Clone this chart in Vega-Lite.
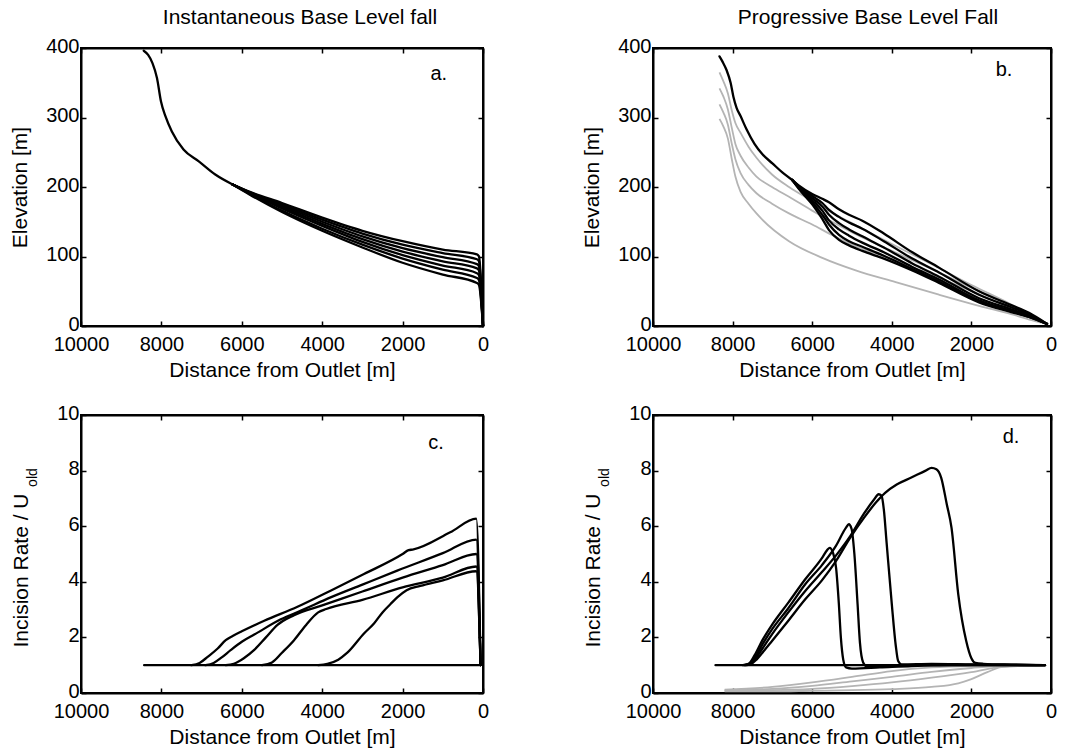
{
  "$schema": "https://vega.github.io/schema/vega-lite/v6.json",
  "background": "white",
  "padding": {"left": 8, "top": 6, "right": 5, "bottom": 2},
  "columns": 2,
  "bounds": "flush",
  "spacing": {"row": 89, "column": 170},
  "datasets": {
    "a": [
      {"s":"t","dist":8440,"val":396},{"s":"t","dist":8330,"val":390},{"s":"t","dist":8220,"val":378},{"s":"t","dist":8110,"val":357},{"s":"t","dist":8010,"val":323},{"s":"t","dist":7900,"val":302},{"s":"t","dist":7740,"val":280},{"s":"t","dist":7450,"val":254},{"s":"t","dist":7070,"val":237},{"s":"t","dist":6660,"val":218},{"s":"t","dist":6240,"val":204},
      {"s":"A1","dist":6240,"val":204},{"s":"A1","dist":5800,"val":193},{"s":"A1","dist":5000,"val":177},{"s":"A1","dist":4000,"val":156},{"s":"A1","dist":3000,"val":137},{"s":"A1","dist":2000,"val":122},{"s":"A1","dist":1000,"val":110},{"s":"A1","dist":150,"val":103},{"s":"A1","dist":100,"val":100},{"s":"A1","dist":0,"val":0},
      {"s":"A2","dist":6240,"val":204},{"s":"A2","dist":5800,"val":192.5},{"s":"A2","dist":5000,"val":175},{"s":"A2","dist":4000,"val":153},{"s":"A2","dist":3000,"val":133},{"s":"A2","dist":2000,"val":117},{"s":"A2","dist":1000,"val":105},{"s":"A2","dist":150,"val":96},{"s":"A2","dist":100,"val":93},{"s":"A2","dist":0,"val":0},
      {"s":"A3","dist":6240,"val":204},{"s":"A3","dist":5800,"val":192},{"s":"A3","dist":5000,"val":173},{"s":"A3","dist":4000,"val":150},{"s":"A3","dist":3000,"val":129},{"s":"A3","dist":2000,"val":112},{"s":"A3","dist":1000,"val":99},{"s":"A3","dist":150,"val":89},{"s":"A3","dist":100,"val":86},{"s":"A3","dist":0,"val":0},
      {"s":"A4","dist":6240,"val":204},{"s":"A4","dist":5800,"val":191.5},{"s":"A4","dist":5000,"val":171},{"s":"A4","dist":4000,"val":147},{"s":"A4","dist":3000,"val":125},{"s":"A4","dist":2000,"val":107},{"s":"A4","dist":1000,"val":93},{"s":"A4","dist":150,"val":83},{"s":"A4","dist":100,"val":80},{"s":"A4","dist":0,"val":0},
      {"s":"A5","dist":6240,"val":204},{"s":"A5","dist":5800,"val":191},{"s":"A5","dist":5000,"val":169},{"s":"A5","dist":4000,"val":144},{"s":"A5","dist":3000,"val":121},{"s":"A5","dist":2000,"val":102},{"s":"A5","dist":1000,"val":87},{"s":"A5","dist":150,"val":76},{"s":"A5","dist":100,"val":73},{"s":"A5","dist":0,"val":0},
      {"s":"A6","dist":6240,"val":204},{"s":"A6","dist":5800,"val":190},{"s":"A6","dist":5000,"val":166},{"s":"A6","dist":4000,"val":140},{"s":"A6","dist":3000,"val":117},{"s":"A6","dist":2000,"val":97},{"s":"A6","dist":1000,"val":81},{"s":"A6","dist":150,"val":69},{"s":"A6","dist":100,"val":66},{"s":"A6","dist":0,"val":0},
      {"s":"A7","dist":6240,"val":204},{"s":"A7","dist":5800,"val":189},{"s":"A7","dist":5000,"val":164},{"s":"A7","dist":4000,"val":137},{"s":"A7","dist":3000,"val":113},{"s":"A7","dist":2000,"val":91},{"s":"A7","dist":1000,"val":74},{"s":"A7","dist":150,"val":62},{"s":"A7","dist":100,"val":59},{"s":"A7","dist":0,"val":0}
    ],
    "bk": [
      {"s":"t","dist":8330,"val":388},{"s":"t","dist":8250,"val":380},{"s":"t","dist":8150,"val":368},{"s":"t","dist":8050,"val":350},{"s":"t","dist":7980,"val":330},{"s":"t","dist":7900,"val":314},{"s":"t","dist":7800,"val":302},{"s":"t","dist":7650,"val":283},{"s":"t","dist":7450,"val":262},{"s":"t","dist":7250,"val":247},{"s":"t","dist":7000,"val":234},{"s":"t","dist":6751,"val":221},{"s":"t","dist":6500,"val":210},
      {"s":"B1","dist":6500,"val":210},{"s":"B1","dist":6332,"val":202},{"s":"B1","dist":6000,"val":190},{"s":"B1","dist":5746,"val":183},{"s":"B1","dist":5578,"val":178},{"s":"B1","dist":5327,"val":168},{"s":"B1","dist":5075,"val":160},{"s":"B1","dist":4741,"val":151.5},{"s":"B1","dist":4200,"val":133},{"s":"B1","dist":3485,"val":106},{"s":"B1","dist":2814,"val":84},{"s":"B1","dist":1809,"val":50},{"s":"B1","dist":1000,"val":30},{"s":"B1","dist":553,"val":19},{"s":"B1","dist":100,"val":3},
      {"s":"B2","dist":6500,"val":210},{"s":"B2","dist":6332,"val":201},{"s":"B2","dist":6000,"val":187},{"s":"B2","dist":5746,"val":177},{"s":"B2","dist":5578,"val":167},{"s":"B2","dist":5327,"val":157},{"s":"B2","dist":5075,"val":149},{"s":"B2","dist":4741,"val":140},{"s":"B2","dist":4200,"val":122},{"s":"B2","dist":3485,"val":97},{"s":"B2","dist":2814,"val":77},{"s":"B2","dist":1809,"val":45},{"s":"B2","dist":1000,"val":27},{"s":"B2","dist":553,"val":17},{"s":"B2","dist":100,"val":3},
      {"s":"B3","dist":6500,"val":210},{"s":"B3","dist":6332,"val":200},{"s":"B3","dist":6000,"val":184},{"s":"B3","dist":5746,"val":172},{"s":"B3","dist":5578,"val":160},{"s":"B3","dist":5327,"val":148},{"s":"B3","dist":5075,"val":139},{"s":"B3","dist":4741,"val":129},{"s":"B3","dist":4200,"val":113},{"s":"B3","dist":3485,"val":90},{"s":"B3","dist":2814,"val":71},{"s":"B3","dist":1809,"val":40},{"s":"B3","dist":1000,"val":24},{"s":"B3","dist":553,"val":15},{"s":"B3","dist":100,"val":3},
      {"s":"B4","dist":6500,"val":210},{"s":"B4","dist":6332,"val":199},{"s":"B4","dist":6000,"val":181},{"s":"B4","dist":5746,"val":166},{"s":"B4","dist":5578,"val":152},{"s":"B4","dist":5327,"val":139},{"s":"B4","dist":5075,"val":130},{"s":"B4","dist":4741,"val":120},{"s":"B4","dist":4200,"val":106},{"s":"B4","dist":3485,"val":85},{"s":"B4","dist":2814,"val":67},{"s":"B4","dist":1809,"val":37},{"s":"B4","dist":1000,"val":22},{"s":"B4","dist":553,"val":14},{"s":"B4","dist":100,"val":3},
      {"s":"B5","dist":6500,"val":210},{"s":"B5","dist":6332,"val":198},{"s":"B5","dist":6000,"val":178},{"s":"B5","dist":5746,"val":160},{"s":"B5","dist":5578,"val":146},{"s":"B5","dist":5327,"val":131},{"s":"B5","dist":5075,"val":122},{"s":"B5","dist":4741,"val":114},{"s":"B5","dist":4200,"val":101},{"s":"B5","dist":3485,"val":82},{"s":"B5","dist":2814,"val":64},{"s":"B5","dist":1809,"val":35},{"s":"B5","dist":1000,"val":21},{"s":"B5","dist":553,"val":13},{"s":"B5","dist":100,"val":3},
      {"s":"B6","dist":6500,"val":210},{"s":"B6","dist":6332,"val":197},{"s":"B6","dist":6000,"val":175},{"s":"B6","dist":5746,"val":154},{"s":"B6","dist":5578,"val":138},{"s":"B6","dist":5327,"val":124},{"s":"B6","dist":5075,"val":116},{"s":"B6","dist":4741,"val":108},{"s":"B6","dist":4200,"val":97},{"s":"B6","dist":3485,"val":80},{"s":"B6","dist":2814,"val":62},{"s":"B6","dist":1809,"val":34},{"s":"B6","dist":1000,"val":20},{"s":"B6","dist":553,"val":13},{"s":"B6","dist":100,"val":3}
    ],
    "bg": [
      {"s":"G4","dist":8330,"val":365},{"s":"G4","dist":8230,"val":352},{"s":"G4","dist":8120,"val":335},{"s":"G4","dist":8020,"val":310},{"s":"G4","dist":7930,"val":292},{"s":"G4","dist":7800,"val":278},{"s":"G4","dist":7600,"val":258},{"s":"G4","dist":7400,"val":242},{"s":"G4","dist":7010,"val":218},{"s":"G4","dist":6583,"val":200},{"s":"G4","dist":6000,"val":180},{"s":"G4","dist":5500,"val":163},{"s":"G4","dist":4907,"val":145},{"s":"G4","dist":4000,"val":118},{"s":"G4","dist":3000,"val":89},{"s":"G4","dist":2000,"val":59},{"s":"G4","dist":1000,"val":31},{"s":"G4","dist":400,"val":12},{"s":"G4","dist":100,"val":3},
      {"s":"G3","dist":8330,"val":342},{"s":"G3","dist":8230,"val":330},{"s":"G3","dist":8120,"val":312},{"s":"G3","dist":8020,"val":285},{"s":"G3","dist":7930,"val":262},{"s":"G3","dist":7800,"val":245},{"s":"G3","dist":7600,"val":228},{"s":"G3","dist":7400,"val":215},{"s":"G3","dist":7010,"val":200},{"s":"G3","dist":6583,"val":186},{"s":"G3","dist":6000,"val":166},{"s":"G3","dist":5500,"val":150},{"s":"G3","dist":4907,"val":132},{"s":"G3","dist":4000,"val":108},{"s":"G3","dist":3000,"val":82},{"s":"G3","dist":2000,"val":55},{"s":"G3","dist":1000,"val":29},{"s":"G3","dist":400,"val":11},{"s":"G3","dist":100,"val":3},
      {"s":"G2","dist":8330,"val":319},{"s":"G2","dist":8230,"val":307},{"s":"G2","dist":8120,"val":290},{"s":"G2","dist":8020,"val":262},{"s":"G2","dist":7930,"val":240},{"s":"G2","dist":7800,"val":220},{"s":"G2","dist":7600,"val":203},{"s":"G2","dist":7400,"val":191},{"s":"G2","dist":7010,"val":176},{"s":"G2","dist":6583,"val":162},{"s":"G2","dist":6000,"val":146},{"s":"G2","dist":5500,"val":131},{"s":"G2","dist":4907,"val":115},{"s":"G2","dist":4000,"val":96},{"s":"G2","dist":3000,"val":74},{"s":"G2","dist":2000,"val":50},{"s":"G2","dist":1000,"val":26},{"s":"G2","dist":400,"val":10},{"s":"G2","dist":100,"val":3},
      {"s":"G1","dist":8330,"val":298},{"s":"G1","dist":8230,"val":287},{"s":"G1","dist":8120,"val":270},{"s":"G1","dist":8020,"val":240},{"s":"G1","dist":7930,"val":215},{"s":"G1","dist":7800,"val":193},{"s":"G1","dist":7600,"val":176},{"s":"G1","dist":7400,"val":162},{"s":"G1","dist":7254,"val":153},{"s":"G1","dist":6583,"val":122},{"s":"G1","dist":5746,"val":98},{"s":"G1","dist":4907,"val":80},{"s":"G1","dist":3902,"val":63},{"s":"G1","dist":2814,"val":45},{"s":"G1","dist":1809,"val":29},{"s":"G1","dist":1000,"val":17},{"s":"G1","dist":400,"val":7},{"s":"G1","dist":100,"val":3}
    ],
    "c": [
      {"s":"C0","dist":8430,"val":1},{"s":"C0","dist":60,"val":1},
      {"s":"C1","dist":7250,"val":1},{"s":"C1","dist":7050,"val":1.08},{"s":"C1","dist":6850,"val":1.3},{"s":"C1","dist":6600,"val":1.6},{"s":"C1","dist":6400,"val":1.9},{"s":"C1","dist":6228,"val":2.05},{"s":"C1","dist":6000,"val":2.22},{"s":"C1","dist":5442,"val":2.6},{"s":"C1","dist":4615,"val":3.1},{"s":"C1","dist":3792,"val":3.68},{"s":"C1","dist":2961,"val":4.28},{"s":"C1","dist":2000,"val":5.0},{"s":"C1","dist":1850,"val":5.14},{"s":"C1","dist":1750,"val":5.16},{"s":"C1","dist":816,"val":5.78},{"s":"C1","dist":166,"val":6.27},{"s":"C1","dist":60,"val":1},
      {"s":"C2","dist":6900,"val":1},{"s":"C2","dist":6700,"val":1.08},{"s":"C2","dist":6500,"val":1.28},{"s":"C2","dist":6270,"val":1.55},{"s":"C2","dist":5990,"val":1.85},{"s":"C2","dist":5690,"val":2.1},{"s":"C2","dist":5030,"val":2.65},{"s":"C2","dist":4500,"val":2.98},{"s":"C2","dist":3792,"val":3.44},{"s":"C2","dist":3000,"val":3.9},{"s":"C2","dist":2134,"val":4.4},{"s":"C2","dist":1000,"val":5.03},{"s":"C2","dist":166,"val":5.52},{"s":"C2","dist":60,"val":1},
      {"s":"C3","dist":6400,"val":1},{"s":"C3","dist":6200,"val":1.05},{"s":"C3","dist":5950,"val":1.25},{"s":"C3","dist":5690,"val":1.55},{"s":"C3","dist":5400,"val":2.0},{"s":"C3","dist":5112,"val":2.45},{"s":"C3","dist":4700,"val":2.8},{"s":"C3","dist":4000,"val":3.15},{"s":"C3","dist":3000,"val":3.65},{"s":"C3","dist":2000,"val":4.15},{"s":"C3","dist":1000,"val":4.6},{"s":"C3","dist":166,"val":5.0},{"s":"C3","dist":60,"val":1},
      {"s":"C4","dist":5500,"val":1},{"s":"C4","dist":5250,"val":1.1},{"s":"C4","dist":5000,"val":1.45},{"s":"C4","dist":4700,"val":1.9},{"s":"C4","dist":4400,"val":2.45},{"s":"C4","dist":4100,"val":2.9},{"s":"C4","dist":3900,"val":3.02},{"s":"C4","dist":3000,"val":3.35},{"s":"C4","dist":2000,"val":3.8},{"s":"C4","dist":1000,"val":4.15},{"s":"C4","dist":166,"val":4.55},{"s":"C4","dist":60,"val":1},
      {"s":"C5","dist":4100,"val":1},{"s":"C5","dist":3870,"val":1.05},{"s":"C5","dist":3600,"val":1.2},{"s":"C5","dist":3375,"val":1.45},{"s":"C5","dist":2955,"val":2.15},{"s":"C5","dist":2712,"val":2.5},{"s":"C5","dist":2500,"val":2.9},{"s":"C5","dist":2300,"val":3.2},{"s":"C5","dist":2127,"val":3.45},{"s":"C5","dist":1900,"val":3.7},{"s":"C5","dist":1560,"val":3.85},{"s":"C5","dist":1000,"val":4.05},{"s":"C5","dist":166,"val":4.38},{"s":"C5","dist":60,"val":1}
    ],
    "dk": [
      {"s":"D0","dist":8430,"val":1},{"s":"D0","dist":150,"val":1},
      {"s":"D1","dist":7750,"val":1},{"s":"D1","dist":7600,"val":1.05},{"s":"D1","dist":7450,"val":1.35},{"s":"D1","dist":7250,"val":1.9},{"s":"D1","dist":7010,"val":2.45},{"s":"D1","dist":6600,"val":3.25},{"s":"D1","dist":6175,"val":4.09},{"s":"D1","dist":5756,"val":4.85},{"s":"D1","dist":5620,"val":5.15},{"s":"D1","dist":5560,"val":5.22},{"s":"D1","dist":5480,"val":5.05},{"s":"D1","dist":5400,"val":4.5},{"s":"D1","dist":5330,"val":3.2},{"s":"D1","dist":5280,"val":2.0},{"s":"D1","dist":5220,"val":1.2},{"s":"D1","dist":5150,"val":0.92},{"s":"D1","dist":5000,"val":0.88},{"s":"D1","dist":4300,"val":0.92},{"s":"D1","dist":3500,"val":0.97},{"s":"D1","dist":2500,"val":1.0},{"s":"D1","dist":150,"val":1.0},
      {"s":"D2","dist":7720,"val":1},{"s":"D2","dist":7580,"val":1.05},{"s":"D2","dist":7430,"val":1.3},{"s":"D2","dist":7250,"val":1.75},{"s":"D2","dist":7010,"val":2.29},{"s":"D2","dist":6600,"val":3.05},{"s":"D2","dist":6175,"val":3.91},{"s":"D2","dist":5756,"val":4.6},{"s":"D2","dist":5400,"val":5.3},{"s":"D2","dist":5150,"val":5.95},{"s":"D2","dist":5080,"val":6.07},{"s":"D2","dist":5010,"val":5.9},{"s":"D2","dist":4940,"val":5.0},{"s":"D2","dist":4860,"val":3.2},{"s":"D2","dist":4800,"val":1.8},{"s":"D2","dist":4720,"val":1.1},{"s":"D2","dist":4620,"val":0.95},{"s":"D2","dist":4300,"val":0.96},{"s":"D2","dist":3500,"val":1.0},{"s":"D2","dist":2500,"val":1.02},{"s":"D2","dist":150,"val":1.0},
      {"s":"D3","dist":7700,"val":1},{"s":"D3","dist":7560,"val":1.04},{"s":"D3","dist":7420,"val":1.25},{"s":"D3","dist":7250,"val":1.6},{"s":"D3","dist":7010,"val":2.11},{"s":"D3","dist":6600,"val":2.9},{"s":"D3","dist":6175,"val":3.67},{"s":"D3","dist":5756,"val":4.35},{"s":"D3","dist":5400,"val":4.95},{"s":"D3","dist":5040,"val":5.65},{"s":"D3","dist":4700,"val":6.45},{"s":"D3","dist":4450,"val":6.95},{"s":"D3","dist":4330,"val":7.15},{"s":"D3","dist":4260,"val":7.1},{"s":"D3","dist":4200,"val":6.6},{"s":"D3","dist":4130,"val":5.4},{"s":"D3","dist":4000,"val":3.2},{"s":"D3","dist":3900,"val":1.7},{"s":"D3","dist":3840,"val":1.15},{"s":"D3","dist":3750,"val":1.03},{"s":"D3","dist":3000,"val":1.05},{"s":"D3","dist":2000,"val":1.03},{"s":"D3","dist":150,"val":1.0},
      {"s":"D4","dist":7680,"val":1},{"s":"D4","dist":7540,"val":1.04},{"s":"D4","dist":7400,"val":1.2},{"s":"D4","dist":7250,"val":1.45},{"s":"D4","dist":7010,"val":1.87},{"s":"D4","dist":6600,"val":2.6},{"s":"D4","dist":6175,"val":3.37},{"s":"D4","dist":5756,"val":4.05},{"s":"D4","dist":5400,"val":4.75},{"s":"D4","dist":5040,"val":5.6},{"s":"D4","dist":4700,"val":6.3},{"s":"D4","dist":4400,"val":6.85},{"s":"D4","dist":4168,"val":7.2},{"s":"D4","dist":3877,"val":7.5},{"s":"D4","dist":3509,"val":7.75},{"s":"D4","dist":3150,"val":8.0},{"s":"D4","dist":3000,"val":8.1},{"s":"D4","dist":2880,"val":8.05},{"s":"D4","dist":2760,"val":7.75},{"s":"D4","dist":2620,"val":6.8},{"s":"D4","dist":2500,"val":5.95},{"s":"D4","dist":2330,"val":3.55},{"s":"D4","dist":2130,"val":1.87},{"s":"D4","dist":2000,"val":1.25},{"s":"D4","dist":1900,"val":1.08},{"s":"D4","dist":1700,"val":1.05},{"s":"D4","dist":1000,"val":1.02},{"s":"D4","dist":150,"val":1.0}
    ],
    "dg": [
      {"s":"G1","dist":8200,"val":0.12},{"s":"G1","dist":7000,"val":0.22},{"s":"G1","dist":6000,"val":0.38},{"s":"G1","dist":5000,"val":0.58},{"s":"G1","dist":4000,"val":0.79},{"s":"G1","dist":3000,"val":0.92},{"s":"G1","dist":2000,"val":0.98},{"s":"G1","dist":1200,"val":1.0},{"s":"G1","dist":150,"val":1.0},
      {"s":"G2","dist":8200,"val":0.1},{"s":"G2","dist":7000,"val":0.15},{"s":"G2","dist":6000,"val":0.26},{"s":"G2","dist":5000,"val":0.42},{"s":"G2","dist":4000,"val":0.58},{"s":"G2","dist":3000,"val":0.76},{"s":"G2","dist":2000,"val":0.9},{"s":"G2","dist":1200,"val":0.98},{"s":"G2","dist":150,"val":1.0},
      {"s":"G3","dist":8200,"val":0.08},{"s":"G3","dist":7000,"val":0.1},{"s":"G3","dist":6000,"val":0.15},{"s":"G3","dist":5000,"val":0.25},{"s":"G3","dist":4000,"val":0.38},{"s":"G3","dist":3000,"val":0.55},{"s":"G3","dist":2000,"val":0.75},{"s":"G3","dist":1200,"val":0.95},{"s":"G3","dist":150,"val":1.0},
      {"s":"G4","dist":8200,"val":0.06},{"s":"G4","dist":7000,"val":0.06},{"s":"G4","dist":6000,"val":0.08},{"s":"G4","dist":5000,"val":0.1},{"s":"G4","dist":4000,"val":0.14},{"s":"G4","dist":3000,"val":0.22},{"s":"G4","dist":2330,"val":0.35},{"s":"G4","dist":2000,"val":0.5},{"s":"G4","dist":1600,"val":0.75},{"s":"G4","dist":1250,"val":0.93},{"s":"G4","dist":150,"val":1.0}
    ]
  },
  "concat": [
    {
      "width": 402, "height": 278,
      "title": {"text": "Instantaneous Base Level fall", "dx": 18},
      "resolve": {"axis": {"x": "independent", "y": "independent"}},
      "layer": [
        {"data": {"name": "a"},
         "mark": {"type": "line", "interpolate": "monotone", "color": "black", "strokeWidth": 2.3, "strokeJoin": "round", "strokeCap": "round"},
         "encoding": {
           "x": {"field": "dist", "type": "quantitative", "scale": {"domain": [0, 10000], "reverse": true, "nice": false}, "axis": {"orient": "bottom", "values": [0,2000,4000,6000,8000,10000], "format": "d", "title": "Distance from Outlet [m]"}},
           "y": {"field": "val", "type": "quantitative", "scale": {"domain": [0, 400], "nice": false}, "axis": {"orient": "left", "values": [0,100,200,300,400], "format": "d", "title": "Elevation [m]", "titlePadding": 15}},
           "detail": {"field": "s"}
         }},
        {"data": {"values": [{}]},
         "mark": {"type": "text", "fontSize": 20, "align": "center", "baseline": "middle", "color": "black"},
         "encoding": {
           "x": {"datum": 1100, "type": "quantitative", "scale": {"domain": [0, 10000], "reverse": true, "nice": false}, "axis": {"orient": "top", "values": [0,2000,4000,6000,8000,10000], "labels": false, "title": null}},
           "y": {"datum": 362, "type": "quantitative", "scale": {"domain": [0, 400], "nice": false}, "axis": {"orient": "right", "values": [0,100,200,300,400], "labels": false, "title": null}},
           "text": {"value": "a."}
         }}
      ]
    },
    {
      "width": 398, "height": 278,
      "title": {"text": "Progressive Base Level Fall", "dx": 16},
      "resolve": {"axis": {"x": "independent", "y": "independent"}},
      "layer": [
        {"data": {"name": "bg"},
         "mark": {"type": "line", "interpolate": "monotone", "color": "#b4b4b4", "strokeWidth": 1.8},
         "encoding": {
           "x": {"field": "dist", "type": "quantitative", "scale": {"domain": [0, 10000], "reverse": true, "nice": false}, "axis": {"orient": "bottom", "values": [0,2000,4000,6000,8000,10000], "format": "d", "title": "Distance from Outlet [m]"}},
           "y": {"field": "val", "type": "quantitative", "scale": {"domain": [0, 400], "nice": false}, "axis": {"orient": "left", "values": [0,100,200,300,400], "format": "d", "title": "Elevation [m]", "titlePadding": 15}},
           "detail": {"field": "s"}
         }},
        {"data": {"name": "bk"},
         "mark": {"type": "line", "interpolate": "monotone", "color": "black", "strokeWidth": 2.3, "strokeJoin": "round", "strokeCap": "round"},
         "encoding": {
           "x": {"field": "dist", "type": "quantitative", "scale": {"domain": [0, 10000], "reverse": true, "nice": false}, "axis": null},
           "y": {"field": "val", "type": "quantitative", "scale": {"domain": [0, 400], "nice": false}, "axis": null},
           "detail": {"field": "s"}
         }},
        {"data": {"values": [{}]},
         "mark": {"type": "text", "fontSize": 20, "align": "center", "baseline": "middle", "color": "black"},
         "encoding": {
           "x": {"datum": 1180, "type": "quantitative", "scale": {"domain": [0, 10000], "reverse": true, "nice": false}, "axis": {"orient": "top", "values": [0,2000,4000,6000,8000,10000], "labels": false, "title": null}},
           "y": {"datum": 369, "type": "quantitative", "scale": {"domain": [0, 400], "nice": false}, "axis": {"orient": "right", "values": [0,100,200,300,400], "labels": false, "title": null}},
           "text": {"value": "b."}
         }}
      ]
    },
    {
      "width": 402, "height": 278,
      "resolve": {"axis": {"x": "independent", "y": "independent"}},
      "layer": [
        {"data": {"name": "c"},
         "mark": {"type": "line", "interpolate": "monotone", "color": "black", "strokeWidth": 2.3, "strokeJoin": "round", "strokeCap": "round"},
         "encoding": {
           "x": {"field": "dist", "type": "quantitative", "scale": {"domain": [0, 10000], "reverse": true, "nice": false}, "axis": {"orient": "bottom", "values": [0,2000,4000,6000,8000,10000], "format": "d", "title": "Distance from Outlet [m]"}},
           "y": {"field": "val", "type": "quantitative", "scale": {"domain": [0, 10], "nice": false}, "axis": {"orient": "left", "values": [0,2,4,6,8,10], "format": "d", "title": "Incision Rate / U", "titleY": 155, "titlePadding": 25}},
           "detail": {"field": "s"}
         }},
        {"data": {"values": [{}]},
         "mark": {"type": "text", "fontSize": 20, "align": "center", "baseline": "middle", "color": "black"},
         "encoding": {
           "x": {"datum": 1166, "type": "quantitative", "scale": {"domain": [0, 10000], "reverse": true, "nice": false}, "axis": {"orient": "top", "values": [0,2000,4000,6000,8000,10000], "labels": false, "title": null}},
           "y": {"datum": 9.0, "type": "quantitative", "scale": {"domain": [0, 10], "nice": false}, "axis": {"orient": "right", "values": [0,2,4,6,8,10], "labels": false, "title": null}},
           "text": {"value": "c."}
         }},
        {"data": {"values": [{}]},
         "mark": {"type": "text", "fontSize": 14, "align": "center", "baseline": "middle", "angle": 270, "dy": -48, "color": "black"},
         "encoding": {
           "x": {"datum": 10000, "type": "quantitative", "scale": {"domain": [0, 10000], "reverse": true, "nice": false}, "axis": null},
           "y": {"datum": 7.75, "type": "quantitative", "scale": {"domain": [0, 10], "nice": false}, "axis": null},
           "text": {"value": "old"}
         }}
      ]
    },
    {
      "width": 398, "height": 278,
      "resolve": {"axis": {"x": "independent", "y": "independent"}},
      "layer": [
        {"data": {"name": "dg"},
         "mark": {"type": "line", "interpolate": "monotone", "color": "#b4b4b4", "strokeWidth": 1.8},
         "encoding": {
           "x": {"field": "dist", "type": "quantitative", "scale": {"domain": [0, 10000], "reverse": true, "nice": false}, "axis": {"orient": "bottom", "values": [0,2000,4000,6000,8000,10000], "format": "d", "title": "Distance from Outlet [m]"}},
           "y": {"field": "val", "type": "quantitative", "scale": {"domain": [0, 10], "nice": false}, "axis": {"orient": "left", "values": [0,2,4,6,8,10], "format": "d", "title": "Incision Rate / U", "titleY": 155, "titlePadding": 25}},
           "detail": {"field": "s"}
         }},
        {"data": {"name": "dk"},
         "mark": {"type": "line", "interpolate": "monotone", "color": "black", "strokeWidth": 2.3, "strokeJoin": "round", "strokeCap": "round"},
         "encoding": {
           "x": {"field": "dist", "type": "quantitative", "scale": {"domain": [0, 10000], "reverse": true, "nice": false}, "axis": null},
           "y": {"field": "val", "type": "quantitative", "scale": {"domain": [0, 10], "nice": false}, "axis": null},
           "detail": {"field": "s"}
         }},
        {"data": {"values": [{}]},
         "mark": {"type": "text", "fontSize": 20, "align": "center", "baseline": "middle", "color": "black"},
         "encoding": {
           "x": {"datum": 1003, "type": "quantitative", "scale": {"domain": [0, 10000], "reverse": true, "nice": false}, "axis": {"orient": "top", "values": [0,2000,4000,6000,8000,10000], "labels": false, "title": null}},
           "y": {"datum": 9.2, "type": "quantitative", "scale": {"domain": [0, 10], "nice": false}, "axis": {"orient": "right", "values": [0,2,4,6,8,10], "labels": false, "title": null}},
           "text": {"value": "d."}
         }},
        {"data": {"values": [{}]},
         "mark": {"type": "text", "fontSize": 14, "align": "center", "baseline": "middle", "angle": 270, "dy": -48, "color": "black"},
         "encoding": {
           "x": {"datum": 10000, "type": "quantitative", "scale": {"domain": [0, 10000], "reverse": true, "nice": false}, "axis": null},
           "y": {"datum": 7.75, "type": "quantitative", "scale": {"domain": [0, 10], "nice": false}, "axis": null},
           "text": {"value": "old"}
         }}
      ]
    }
  ],
  "config": {
    "font": "Liberation Sans",
    "view": {"stroke": "black", "strokeWidth": 2},
    "axis": {"grid": false, "domainColor": "black", "domainWidth": 2, "tickColor": "black", "tickWidth": 1.5, "tickSize": -5, "labelFontSize": 20, "labelColor": "black", "labelFont": "Liberation Sans", "titleFont": "Liberation Sans", "titleFontSize": 21, "titleFontWeight": "normal", "titleColor": "black", "labelFlush": false, "labelOverlap": false, "labelBound": false},
    "axisX": {"labelPadding": 13, "titlePadding": 5},
    "axisY": {"labelPadding": 7, "labelOffset": -2},
    "title": {"fontSize": 21, "fontWeight": "normal", "color": "black", "font": "Liberation Sans", "offset": 8}
  }
}
